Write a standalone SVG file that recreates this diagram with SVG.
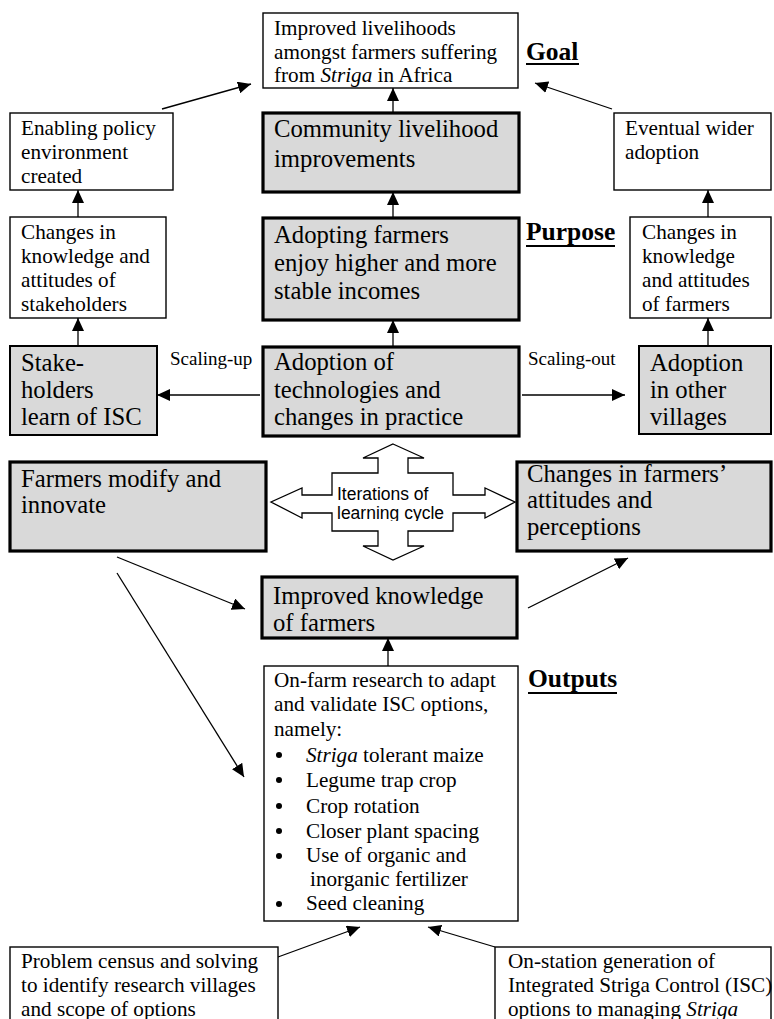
<svg xmlns="http://www.w3.org/2000/svg" width="774" height="1019" viewBox="0 0 774 1019">
<style>
text{font-family:"Liberation Serif","Times New Roman",serif;fill:#000}
.s{font-size:21.2px}
.b{font-size:24.7px}
.lab{font-size:19px}
.hd{font-size:25.5px;font-weight:bold}
.it{font-style:italic}
.thin{fill:#fff;stroke:#000;stroke-width:1.4}
.thick{fill:#d9d9d9;stroke:#000;stroke-width:3.2}
.med{fill:#d9d9d9;stroke:#000;stroke-width:2}
.con{stroke:#000;stroke-width:1.3;fill:none}
.ul{stroke:#000;stroke-width:2}
.cyc{font-family:"Liberation Sans",Arial,sans-serif;font-size:17.5px}
</style>
<defs>
<marker id="ah" markerWidth="13" markerHeight="12" refX="13" refY="6" orient="auto" markerUnits="userSpaceOnUse"><path d="M0,0 L13,6 L0,12 z" fill="#000"/></marker>
<clipPath id="cc"><rect x="330" y="470" width="125" height="51"/></clipPath>
</defs>
<rect width="774" height="1019" fill="#fff"/>

<g id="connectors">
<line class="con" x1="393" y1="113" x2="393" y2="88" marker-end="url(#ah)"/>
<line class="con" x1="393" y1="218" x2="393" y2="192" marker-end="url(#ah)"/>
<line class="con" x1="393" y1="346" x2="393" y2="320" marker-end="url(#ah)"/>
<line class="con" x1="260" y1="395" x2="157" y2="395" marker-end="url(#ah)"/>
<line class="con" x1="522" y1="395" x2="625" y2="395" marker-end="url(#ah)"/>
<line class="con" x1="78" y1="346" x2="78" y2="318" marker-end="url(#ah)"/>
<line class="con" x1="78" y1="217" x2="78" y2="190" marker-end="url(#ah)"/>
<line class="con" x1="162" y1="109" x2="251" y2="84" marker-end="url(#ah)"/>
<line class="con" x1="612" y1="109" x2="535" y2="83" marker-end="url(#ah)"/>
<line class="con" x1="708" y1="217" x2="708" y2="190" marker-end="url(#ah)"/>
<line class="con" x1="708" y1="346" x2="708" y2="318" marker-end="url(#ah)"/>
<line class="con" x1="117" y1="557" x2="245" y2="609" marker-end="url(#ah)"/>
<line class="con" x1="117" y1="573" x2="244" y2="777" marker-end="url(#ah)"/>
<line class="con" x1="528" y1="608" x2="628" y2="558" marker-end="url(#ah)"/>
<line class="con" x1="388" y1="666" x2="388" y2="638" marker-end="url(#ah)"/>
<line class="con" x1="278" y1="957" x2="360" y2="927" marker-end="url(#ah)"/>
<line class="con" x1="495" y1="947" x2="428" y2="927" marker-end="url(#ah)"/>
</g>

<g id="goal">
<rect class="thin" x="263" y="13" width="255" height="75"/>
<text class="s" x="274" y="35">Improved livelihoods</text>
<text class="s" x="274" y="59">amongst farmers suffering</text>
<text class="s" x="274" y="82">from <tspan class="it">Striga</tspan> in Africa</text>
</g>
<g id="label-goal">
<text class="hd" x="526" y="60">Goal</text>
<line class="ul" x1="526" y1="64" x2="579" y2="64"/>
</g>

<g id="community">
<rect class="thick" x="263" y="113" width="256" height="79"/>
<text class="b" x="274" y="137">Community livelihood</text>
<text class="b" x="274" y="167">improvements</text>
</g>

<g id="adopting">
<rect class="thick" x="263" y="218" width="256" height="102"/>
<text class="b" x="274" y="243">Adopting farmers</text>
<text class="b" x="274" y="271">enjoy higher and more</text>
<text class="b" x="274" y="299">stable incomes</text>
</g>
<g id="label-purpose">
<text class="hd" x="526" y="240">Purpose</text>
<line class="ul" x1="526" y1="246" x2="615" y2="246"/>
</g>

<g id="adoption-tech">
<rect class="thick" x="263" y="347" width="256" height="89"/>
<text class="b" x="274" y="370">Adoption of</text>
<text class="b" x="274" y="398">technologies and</text>
<text class="b" x="274" y="425">changes in practice</text>
</g>

<g id="scaling-labels">
<text class="lab" x="170" y="365">Scaling-up</text>
<text class="lab" x="528" y="365">Scaling-out</text>
</g>

<g id="stakeholders">
<rect class="med" x="10" y="346" width="147" height="89"/>
<text class="b" x="21" y="371">Stake-</text>
<text class="b" x="21" y="398">holders</text>
<text class="b" x="21" y="425">learn of ISC</text>
</g>

<g id="changes-stakeholders">
<rect class="thin" x="10" y="217" width="156" height="101"/>
<text class="s" x="21" y="239">Changes in</text>
<text class="s" x="21" y="263">knowledge and</text>
<text class="s" x="21" y="287">attitudes of</text>
<text class="s" x="21" y="311">stakeholders</text>
</g>

<g id="enabling">
<rect class="thin" x="10" y="113" width="163" height="77"/>
<text class="s" x="21" y="135">Enabling policy</text>
<text class="s" x="21" y="159">environment</text>
<text class="s" x="21" y="183">created</text>
</g>

<g id="eventual">
<rect class="thin" x="614" y="113" width="157" height="77"/>
<text class="s" x="625" y="135">Eventual wider</text>
<text class="s" x="625" y="159">adoption</text>
</g>

<g id="changes-farmers">
<rect class="thin" x="630" y="217" width="141" height="101"/>
<text class="s" x="642" y="239">Changes in</text>
<text class="s" x="642" y="263">knowledge</text>
<text class="s" x="642" y="287">and attitudes</text>
<text class="s" x="642" y="311">of farmers</text>
</g>

<g id="adoption-villages">
<rect class="med" x="639" y="346" width="132" height="88"/>
<text class="b" x="650" y="371">Adoption</text>
<text class="b" x="650" y="398">in other</text>
<text class="b" x="650" y="425">villages</text>
</g>

<g id="farmers-modify">
<rect class="thick" x="10" y="462" width="256" height="89"/>
<text class="b" x="21" y="487">Farmers modify and</text>
<text class="b" x="21" y="513">innovate</text>
</g>

<g id="changes-attitudes">
<rect class="thick" x="517" y="462" width="254" height="89"/>
<text class="b" x="527" y="482">Changes in farmers’</text>
<text class="b" x="527" y="508">attitudes and</text>
<text class="b" x="527" y="535">perceptions</text>
</g>

<g id="iterations">
<path d="M393,444 L424,458 L408,458 L408,473 L453,473 L453,495 L485,495 L485,488 L515,502 L485,518 L485,513 L453,513 L453,531 L408,531 L408,546 L424,546 L393,560 L363,546 L378,546 L378,531 L332,531 L332,513 L302,513 L302,518 L271,502 L302,488 L302,495 L332,495 L332,473 L378,473 L378,458 L363,458 Z" fill="#fff" stroke="#000" stroke-width="1.3"/>
<g clip-path="url(#cc)">
<text class="cyc" x="337" y="500">Iterations of</text>
<text class="cyc" x="337" y="519">learning cycle</text>
</g>
</g>

<g id="improved-knowledge">
<rect class="thick" x="262" y="577" width="255" height="61"/>
<text class="b" x="273" y="604">Improved knowledge</text>
<text class="b" x="273" y="631">of farmers</text>
</g>

<g id="on-farm">
<rect class="thin" x="264" y="666" width="254" height="255"/>
<text class="s" x="274" y="687">On-farm research to adapt</text>
<text class="s" x="274" y="711">and validate ISC options,</text>
<text class="s" x="274" y="736">namely:</text>
<g>
<circle cx="279" cy="755" r="3"/>
<circle cx="279" cy="780" r="3"/>
<circle cx="279" cy="806" r="3"/>
<circle cx="279" cy="831" r="3"/>
<circle cx="279" cy="856" r="3"/>
<circle cx="279" cy="904" r="3"/>
</g>
<text class="s" x="306" y="762"><tspan class="it">Striga</tspan> tolerant maize</text>
<text class="s" x="306" y="787">Legume trap crop</text>
<text class="s" x="306" y="813">Crop rotation</text>
<text class="s" x="306" y="838">Closer plant spacing</text>
<text class="s" x="306" y="862">Use of organic and</text>
<text class="s" x="310" y="886">inorganic fertilizer</text>
<text class="s" x="306" y="910">Seed cleaning</text>
</g>
<g id="label-outputs">
<text class="hd" x="528" y="687">Outputs</text>
<line class="ul" x1="528" y1="693" x2="617" y2="693"/>
</g>

<g id="problem-census">
<rect class="thin" x="10" y="947" width="268" height="80"/>
<text class="s" x="21" y="968">Problem census and solving</text>
<text class="s" x="21" y="992">to identify research villages</text>
<text class="s" x="21" y="1016">and scope of options</text>
</g>

<g id="on-station">
<rect class="thin" x="495" y="947" width="276" height="80"/>
<text class="s" x="508" y="968">On-station generation of</text>
<text class="s" x="508" y="992">Integrated Striga Control (ISC)</text>
<text class="s" x="508" y="1016">options to managing <tspan class="it">Striga</tspan></text>
</g>
</svg>
